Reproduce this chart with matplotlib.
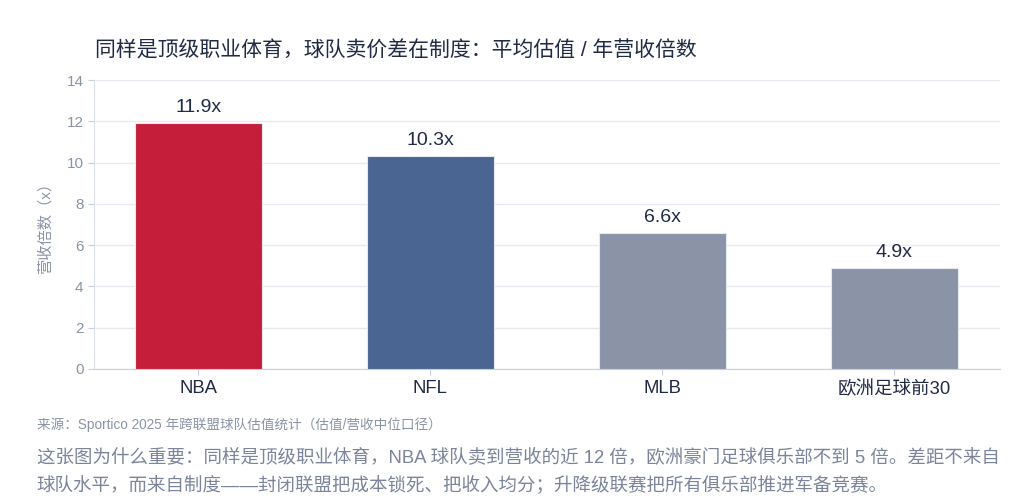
import matplotlib
matplotlib.use('Agg')
import matplotlib.pyplot as plt

plt.rcParams['font.family'] = ['Liberation Sans', 'Noto Sans CJK SC', 'DejaVu Sans']

# ---------------------------------------------------------------
# données
# ---------------------------------------------------------------
leagues = ['NBA', 'NFL', 'MLB', '欧洲足球前30']
multiples = [11.9, 10.3, 6.6, 4.9]
bar_colors = ['#C41E3A', '#4A6591', '#8A94A6', '#8A94A6']
yticks = [0, 2, 4, 6, 8, 10, 12, 14]

title = '同样是顶级职业体育，球队卖价差在制度：平均估值 / 年营收倍数'
source = '来源：Sportico 2025 年跨联盟球队估值统计（估值/营收中位口径）'
note1 = '这张图为什么重要：同样是顶级职业体育，NBA 球队卖到营收的近 12 倍，欧洲豪门足球俱乐部不到 5 倍。差距不来自'
note2 = '球队水平，而来自制度——封闭联盟把成本锁死、把收入均分；升降级联赛把所有俱乐部推进军备竞赛。'

# ---------------------------------------------------------------
# figure
# ---------------------------------------------------------------
fig = plt.figure(figsize=(10.23, 5.0), dpi=100)
ax = fig.add_axes([0.0919, 0.262, 0.8856, 0.578])

x = range(len(leagues))
bars = ax.bar(x, multiples, width=0.55, color=bar_colors, edgecolor='#E6E9F0',
              linewidth=0.8, zorder=3)
for xi, v in zip(x, multiples):
    ax.text(xi, v + 0.35, f'{v}x', ha='center', va='bottom', fontsize=14,
            color='#1F2A44')

ax.set_xlim(-0.45, 3.455)
ax.set_ylim(0, 14)
ax.set_yticks(yticks)
ax.set_xticks(list(x))
ax.set_xticklabels(leagues, fontsize=13.3, color='#1F2A44')
ax.tick_params(axis='y', labelsize=11, labelcolor='#8A94A6', color='#C8CEDA', length=4)
ax.tick_params(axis='x', color='#C8CEDA', length=4, pad=4)
ax.grid(axis='y', color='#E6E9F0', linewidth=1, zorder=0)
ax.set_axisbelow(True)
for s in ['top', 'right']:
    ax.spines[s].set_visible(False)
ax.spines['left'].set_color('#DDE1EA')
ax.spines['bottom'].set_color('#C8CEDA')
ax.set_ylabel('营收倍数（x）', fontsize=11, color='#8A94A6', labelpad=10)

fig.text(0.093, 0.9, title, fontsize=15, color='#1F2A44', va='center')
fig.text(0.036, 0.15, source, fontsize=9.8, color='#8A94A6', va='center')
fig.text(0.036, 0.086, note1, fontsize=13.3, color='#7A849A', va='center')
fig.text(0.036, 0.03, note2, fontsize=13.3, color='#7A849A', va='center')

fig.savefig('out.png', dpi=100)
